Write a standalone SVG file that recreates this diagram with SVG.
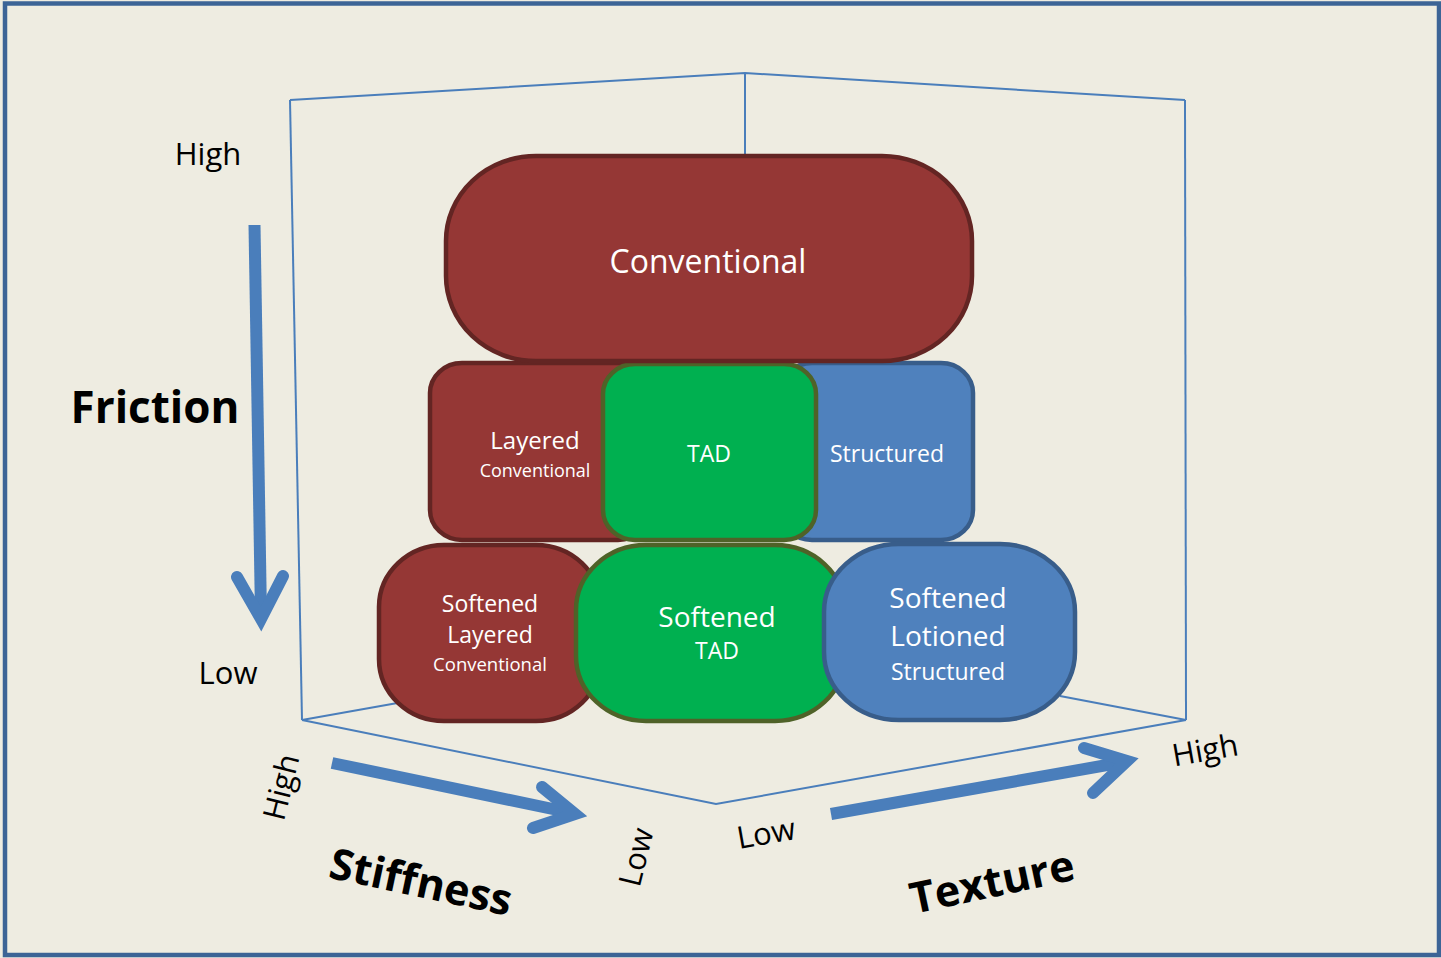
<svg xmlns="http://www.w3.org/2000/svg" width="1441" height="958" viewBox="0 0 1441 958">
  <style>
    .frame { fill: none; stroke: #4A7EBB; stroke-width: 2; }
    .red { fill: #953735; stroke: #632523; stroke-width: 4.5; }
    .green { fill: #00B050; stroke: #4F6228; stroke-width: 4.5; }
    .blue { fill: #4F81BD; stroke: #385D8A; stroke-width: 4.5; }
    .lbl { font-family: "Open Sans", "Noto Sans", sans-serif; fill: #FFFFFF; text-anchor: middle; }
    .axis { font-family: "Open Sans", "Noto Sans", sans-serif; fill: #000000; text-anchor: middle; font-size: 31px; }
    .title { font-family: "Open Sans", "Noto Sans", sans-serif; fill: #000000; text-anchor: middle; font-weight: bold; }
    .shaft { fill: none; stroke: #4A7EBB; stroke-width: 12; stroke-linecap: butt; }
    .head { fill: none; stroke: #4A7EBB; stroke-width: 12; stroke-linecap: round; stroke-linejoin: miter; stroke-miterlimit: 10; }
  </style>

  <!-- page background and outline -->
  <rect x="0" y="0" width="1441" height="958" fill="#EEECE1"/>
  <rect x="5" y="3.5" width="1434" height="951.5" fill="none" stroke="#3C6496" stroke-width="4.5"/>

  <!-- perspective box edges -->
  <g id="frame">
    <polyline class="frame" points="290,100 745,73 1185,100"/>
    <line class="frame" x1="745" y1="73" x2="745" y2="160"/>
    <line class="frame" x1="290" y1="100" x2="302" y2="720"/>
    <line class="frame" x1="1185" y1="100" x2="1186" y2="720"/>
    <polyline class="frame" points="302,720 716,804 1186,720"/>
    <line class="frame" x1="302" y1="720" x2="420" y2="699"/>
    <line class="frame" x1="1186" y1="720" x2="1060" y2="696"/>
  </g>

  <!-- middle row -->
  <g id="node-layered">
    <rect class="red" x="430" y="363" width="220" height="177" rx="32" ry="30"/>
    <text class="lbl" x="535" y="449" font-size="24">Layered</text>
    <text class="lbl" x="535" y="477" font-size="18">Conventional</text>
  </g>
  <g id="node-structured">
    <rect class="blue" x="780" y="363" width="193" height="177" rx="32" ry="30"/>
    <text class="lbl" x="887" y="462" font-size="23">Structured</text>
  </g>
  <g id="node-tad">
    <rect class="green" x="603" y="364" width="213" height="176" rx="32" ry="30"/>
    <text class="lbl" x="709" y="462" font-size="23">TAD</text>
  </g>

  <!-- top row -->
  <g id="node-conventional">
    <rect class="red" x="446" y="156" width="526" height="205" rx="90" ry="85"/>
    <text class="lbl" x="708" y="273" font-size="32">Conventional</text>
  </g>

  <!-- bottom row -->
  <g id="node-softened-layered">
    <rect class="red" x="379" y="545" width="222" height="176" rx="65" ry="62"/>
    <text class="lbl" x="490" y="612" font-size="23">Softened</text>
    <text class="lbl" x="490" y="643" font-size="23">Layered</text>
    <text class="lbl" x="490" y="671" font-size="18.5">Conventional</text>
  </g>
  <g id="node-softened-tad">
    <rect class="green" x="576" y="545" width="269" height="176" rx="70" ry="65"/>
    <text class="lbl" x="717" y="627" font-size="28">Softened</text>
    <text class="lbl" x="717" y="659" font-size="23">TAD</text>
  </g>
  <g id="node-softened-lotioned">
    <rect class="blue" x="824" y="544" width="251" height="176" rx="75" ry="68"/>
    <text class="lbl" x="948" y="608" font-size="28">Softened</text>
    <text class="lbl" x="948" y="646" font-size="28">Lotioned</text>
    <text class="lbl" x="948" y="680" font-size="23">Structured</text>
  </g>

  <!-- axis arrows -->
  <g id="connectors">
    <g id="arrow-friction">
      <line class="shaft" x1="254.5" y1="225" x2="261" y2="616"/>
      <polyline class="head" points="237,577 261,619 283,576"/>
    </g>
    <g id="arrow-stiffness">
      <line class="shaft" x1="332" y1="763" x2="572" y2="813"/>
      <polyline class="head" points="542,787 575,814 533,828"/>
    </g>
    <g id="arrow-texture">
      <line class="shaft" x1="831" y1="814" x2="1124" y2="762"/>
      <polyline class="head" points="1084,748 1127,761 1093,793"/>
    </g>
  </g>

  <!-- axis labels -->
  <g id="labels">
    <text class="axis" x="208" y="165">High</text>
    <text class="title" x="155" y="423" font-size="44">Friction</text>
    <text class="axis" x="228" y="684">Low</text>

    <text class="axis" transform="translate(281,787) rotate(-76)" x="0" y="11">High</text>
    <text class="axis" transform="translate(636,857) rotate(-76)" x="0" y="11">Low</text>
    <text class="title" font-size="43" transform="translate(421,882) rotate(12)" x="0" y="15">Stiffness</text>

    <text class="axis" transform="translate(766,833) rotate(-10)" x="0" y="11">Low</text>
    <text class="axis" transform="translate(1205,750) rotate(-10)" x="0" y="11">High</text>
    <text class="title" font-size="43" transform="translate(992,882) rotate(-12)" x="0" y="15">Texture</text>
  </g>
</svg>
